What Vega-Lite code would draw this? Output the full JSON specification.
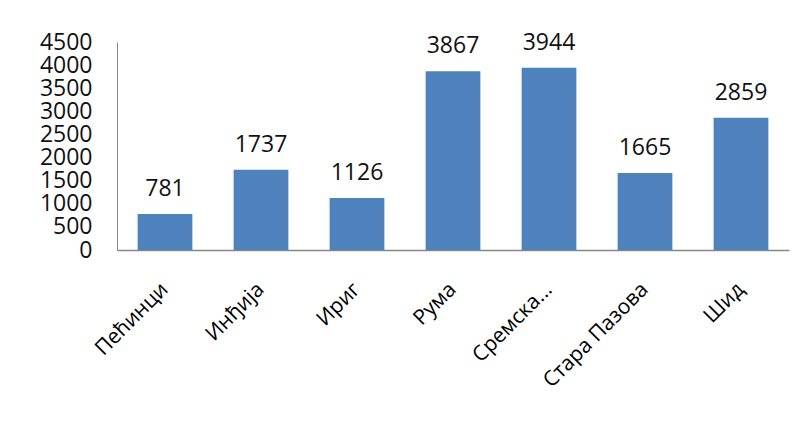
{
  "$schema": "https://vega.github.io/schema/vega-lite/v6.json",
  "width": 672,
  "height": 208,
  "autosize": {"type": "none"},
  "padding": {"left": 117, "top": 42, "right": 16, "bottom": 178},
  "background": "white",
  "config": {"view": {"stroke": null}, "font": "Open Sans"},
  "data": {"values": [
    {"opstina": "Пећинци", "broj": 781},
    {"opstina": "Инђија", "broj": 1737},
    {"opstina": "Ириг", "broj": 1126},
    {"opstina": "Рума", "broj": 3867},
    {"opstina": "Сремска Митровица", "broj": 3944},
    {"opstina": "Стара Пазова", "broj": 1665},
    {"opstina": "Шид", "broj": 2859}
  ]},
  "encoding": {
    "x": {"field": "opstina", "type": "nominal", "sort": null,
      "scale": {"paddingInner": 0.43, "paddingOuter": 0.215},
      "axis": {"title": null, "labelAngle": -45, "labelAlign": "right", "labelBaseline": "middle",
        "labelFontSize": 21, "labelColor": "#000", "labelPadding": 36, "labelDx": 22,
        "ticks": false, "domainColor": "#888", "domainWidth": 1.5,
        "labelExpr": "datum.label == 'Сремска Митровица' ? 'Сремска...' : datum.label"}},
    "y": {"field": "broj", "type": "quantitative",
      "scale": {"domain": [0, 4500]},
      "axis": {"title": null, "values": [0,500,1000,1500,2000,2500,3000,3500,4000,4500],
        "format": "d", "grid": false, "ticks": false, "labelFontSize": 23, "labelColor": "#111",
        "labelPadding": 25, "labelOverlap": false, "domainColor": "#888", "domainWidth": 1}}
  },
  "layer": [
    {"mark": {"type": "bar", "color": "#4F81BD"}},
    {"mark": {"type": "text", "baseline": "alphabetic", "dy": -18, "fontSize": 23, "color": "#111"},
     "encoding": {"text": {"field": "broj", "type": "quantitative"}}}
  ]
}
